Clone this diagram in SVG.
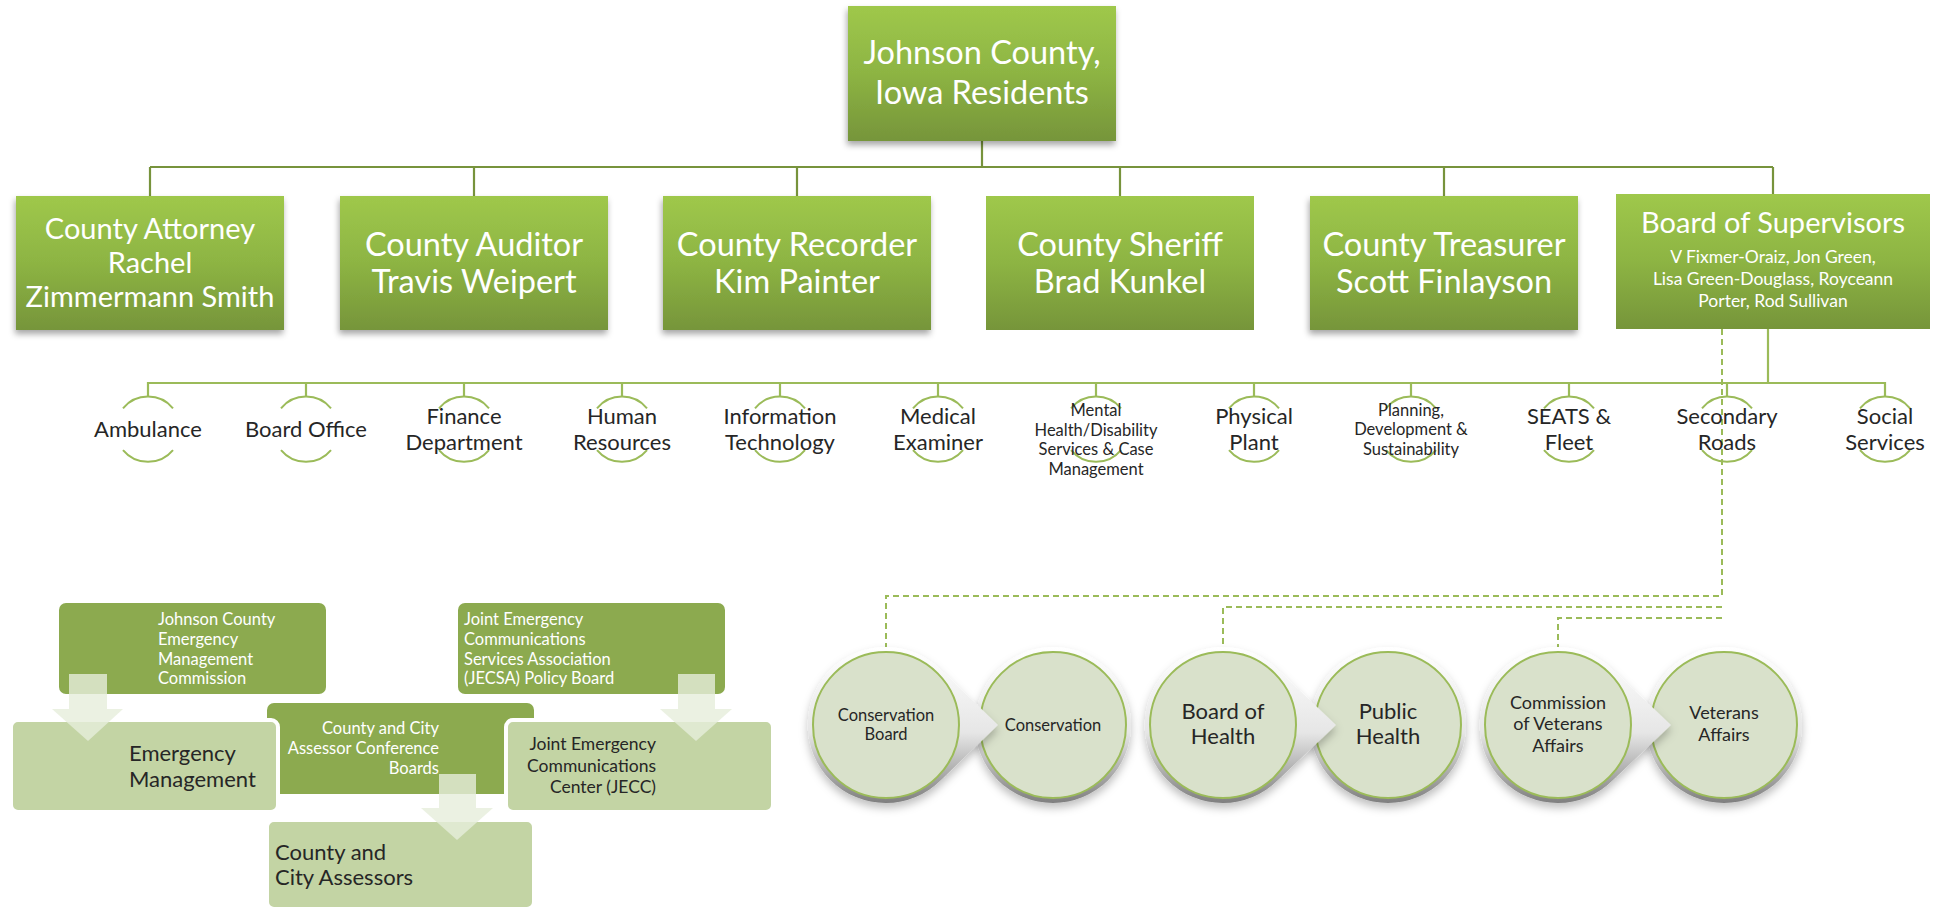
<svg xmlns="http://www.w3.org/2000/svg" width="1948" height="911" viewBox="0 0 1948 911">
  <style>
    .box { fill: url(#greenGrad); }
    .shadowed { filter: url(#boxShadow); }
    .wt { font-family: Lato, "Liberation Sans", sans-serif; fill: #ffffff; text-anchor: middle; }
    .dk { font-family: Lato, "Liberation Sans", sans-serif; fill: #262626; text-anchor: middle; }
    .solid { fill: none; stroke: #77933c; stroke-width: 2.2; }
    .light { fill: none; stroke: #9bbb59; stroke-width: 2.2; }
    .dash { fill: none; stroke: #9bbb59; stroke-width: 2; stroke-dasharray: 6 4; }
    .arc { fill: none; stroke: #9bbb59; stroke-width: 2; }
    .dbox { fill: #8caa4f; }
    .lbox { fill: #c3d4a4; stroke: #ffffff; stroke-width: 4; }
    .arrow { fill: #e6eddb; fill-opacity: 0.8; }
    .ring { fill: url(#ringGrad); filter: url(#ringShadow); }
    .inner { fill: #d9e1cb; stroke: #9bbb59; stroke-width: 2; }
  </style>
  <defs>
    <linearGradient id="greenGrad" x1="0" y1="0" x2="0" y2="1">
      <stop offset="0" stop-color="#9fc84b"/>
      <stop offset="0.5" stop-color="#8db443"/>
      <stop offset="1" stop-color="#76953a"/>
    </linearGradient>
    <linearGradient id="ringGrad" x1="0" y1="0" x2="0" y2="1">
      <stop offset="0" stop-color="#ffffff"/>
      <stop offset="0.55" stop-color="#e6e6e6"/>
      <stop offset="1" stop-color="#7f7f7f"/>
    </linearGradient>
    <filter id="boxShadow" x="-10%" y="-10%" width="120%" height="130%">
      <feDropShadow dx="-1" dy="4" stdDeviation="3" flood-color="#000000" flood-opacity="0.35"/>
    </filter>
    <filter id="ringShadow" x="-20%" y="-20%" width="140%" height="150%">
      <feDropShadow dx="0" dy="5" stdDeviation="4" flood-color="#000000" flood-opacity="0.25"/>
    </filter>
  </defs>

  <rect width="1948" height="911" fill="#ffffff"/>

  <!-- connectors -->
  <g id="connectors">
    <path class="solid" d="M982 141 V167 M150 167 H1773 M150 167 V196 M474 167 V196 M797 167 V196 M1120 167 V196 M1444 167 V196 M1773 167 V194"/>
    <path class="light" d="M1768 329 V383 M148 397 V383 H1885 V397 M306 383 V397 M464 383 V397 M622 383 V397 M780 383 V397 M938 383 V397 M1096 383 V397 M1254 383 V397 M1411 383 V397 M1569 383 V397 M1727 383 V397"/>
    <path class="dash" d="M1722 329 V596 H886 V647 M1722 607 H1223 V647 M1722 618 H1558 V647"/>
  </g>

  <!-- top level -->
  <g id="residents">
    <rect class="box shadowed" x="848" y="6" width="268" height="135"/>
    <text class="wt" font-size="32.5"><tspan x="982" y="64">Johnson County,</tspan><tspan x="982" y="104">Iowa Residents</tspan></text>
  </g>

  <!-- elected offices -->
  <g id="attorney">
    <rect class="box shadowed" x="16" y="196" width="268" height="134"/>
    <text class="wt" font-size="29"><tspan x="150" y="239">County Attorney</tspan><tspan x="150" y="273">Rachel</tspan><tspan x="150" y="307">Zimmermann Smith</tspan></text>
  </g>
  <g id="auditor">
    <rect class="box shadowed" x="340" y="196" width="268" height="134"/>
    <text class="wt" font-size="32.5"><tspan x="474" y="256">County Auditor</tspan><tspan x="474" y="293">Travis Weipert</tspan></text>
  </g>
  <g id="recorder">
    <rect class="box shadowed" x="663" y="196" width="268" height="134"/>
    <text class="wt" font-size="32.5"><tspan x="797" y="256">County Recorder</tspan><tspan x="797" y="293">Kim Painter</tspan></text>
  </g>
  <g id="sheriff">
    <rect class="box" x="986" y="196" width="268" height="134"/>
    <text class="wt" font-size="32.5"><tspan x="1120" y="256">County Sheriff</tspan><tspan x="1120" y="293">Brad Kunkel</tspan></text>
  </g>
  <g id="treasurer">
    <rect class="box shadowed" x="1310" y="196" width="268" height="134"/>
    <text class="wt" font-size="32.5"><tspan x="1444" y="256">County Treasurer</tspan><tspan x="1444" y="293">Scott Finlayson</tspan></text>
  </g>
  <g id="supervisors">
    <rect class="box" x="1616" y="194" width="314" height="135"/>
    <text class="wt" font-size="29"><tspan x="1773" y="233">Board of Supervisors</tspan></text>
    <text class="wt" font-size="17.5"><tspan x="1773" y="263">V Fixmer-Oraiz, Jon Green,</tspan><tspan x="1773" y="285">Lisa Green-Douglass, Royceann</tspan><tspan x="1773" y="307">Porter, Rod Sullivan</tspan></text>
  </g>

  <!-- departments -->
  <g id="ambulance">
    <path class="arc" d="M123 408.3 A32.5 32.5 0 0 1 173 408.3 M123 450.1 A32.5 32.5 0 0 0 173 450.1"/>
    <text class="dk" font-size="22"><tspan x="148" y="437">Ambulance</tspan></text>
  </g>
  <g id="board-office">
    <path class="arc" d="M281 408.3 A32.5 32.5 0 0 1 331 408.3 M281 450.1 A32.5 32.5 0 0 0 331 450.1"/>
    <text class="dk" font-size="22"><tspan x="306" y="437">Board Office</tspan></text>
  </g>
  <g id="finance">
    <path class="arc" d="M439 408.3 A32.5 32.5 0 0 1 489 408.3 M439 450.1 A32.5 32.5 0 0 0 489 450.1"/>
    <text class="dk" font-size="22"><tspan x="464" y="424">Finance</tspan><tspan x="464" y="450">Department</tspan></text>
  </g>
  <g id="human-resources">
    <path class="arc" d="M597 408.3 A32.5 32.5 0 0 1 647 408.3 M597 450.1 A32.5 32.5 0 0 0 647 450.1"/>
    <text class="dk" font-size="22"><tspan x="622" y="424">Human</tspan><tspan x="622" y="450">Resources</tspan></text>
  </g>
  <g id="it">
    <path class="arc" d="M755 408.3 A32.5 32.5 0 0 1 805 408.3 M755 450.1 A32.5 32.5 0 0 0 805 450.1"/>
    <text class="dk" font-size="22"><tspan x="780" y="424">Information</tspan><tspan x="780" y="450">Technology</tspan></text>
  </g>
  <g id="medical-examiner">
    <path class="arc" d="M913 408.3 A32.5 32.5 0 0 1 963 408.3 M913 450.1 A32.5 32.5 0 0 0 963 450.1"/>
    <text class="dk" font-size="22"><tspan x="938" y="424">Medical</tspan><tspan x="938" y="450">Examiner</tspan></text>
  </g>
  <g id="mental-health">
    <path class="arc" d="M1071 408.3 A32.5 32.5 0 0 1 1121 408.3 M1071 450.1 A32.5 32.5 0 0 0 1121 450.1"/>
    <text class="dk" font-size="16.5"><tspan x="1096" y="416">Mental</tspan><tspan x="1096" y="436">Health/Disability</tspan><tspan x="1096" y="455">Services &amp; Case</tspan><tspan x="1096" y="475">Management</tspan></text>
  </g>
  <g id="physical-plant">
    <path class="arc" d="M1229 408.3 A32.5 32.5 0 0 1 1279 408.3 M1229 450.1 A32.5 32.5 0 0 0 1279 450.1"/>
    <text class="dk" font-size="22"><tspan x="1254" y="424">Physical</tspan><tspan x="1254" y="450">Plant</tspan></text>
  </g>
  <g id="planning">
    <path class="arc" d="M1386 408.3 A32.5 32.5 0 0 1 1436 408.3 M1386 450.1 A32.5 32.5 0 0 0 1436 450.1"/>
    <text class="dk" font-size="16.5"><tspan x="1411" y="416">Planning,</tspan><tspan x="1411" y="435">Development &amp;</tspan><tspan x="1411" y="455">Sustainability</tspan></text>
  </g>
  <g id="seats">
    <path class="arc" d="M1544 408.3 A32.5 32.5 0 0 1 1594 408.3 M1544 450.1 A32.5 32.5 0 0 0 1594 450.1"/>
    <text class="dk" font-size="22"><tspan x="1569" y="424">SEATS &amp;</tspan><tspan x="1569" y="450">Fleet</tspan></text>
  </g>
  <g id="secondary-roads">
    <path class="arc" d="M1702 408.3 A32.5 32.5 0 0 1 1752 408.3 M1702 450.1 A32.5 32.5 0 0 0 1752 450.1"/>
    <text class="dk" font-size="22"><tspan x="1727" y="424">Secondary</tspan><tspan x="1727" y="450">Roads</tspan></text>
  </g>
  <g id="social-services">
    <path class="arc" d="M1860 408.3 A32.5 32.5 0 0 1 1910 408.3 M1860 450.1 A32.5 32.5 0 0 0 1910 450.1"/>
    <text class="dk" font-size="22"><tspan x="1885" y="424">Social</tspan><tspan x="1885" y="450">Services</tspan></text>
  </g>

  <!-- boards and commissions (left) -->
  <g id="emergency-commission">
    <rect class="dbox" x="59" y="603" width="267" height="91" rx="7"/>
    <text class="wt" font-size="16.5" text-anchor="start" style="text-anchor:start"><tspan x="158" y="625">Johnson County</tspan><tspan x="158" y="645">Emergency</tspan><tspan x="158" y="665">Management</tspan><tspan x="158" y="684">Commission</tspan></text>
  </g>
  <g id="jecsa-board">
    <rect class="dbox" x="458" y="603" width="267" height="91" rx="7"/>
    <text class="wt" font-size="16.5" style="text-anchor:start"><tspan x="464" y="625">Joint Emergency</tspan><tspan x="464" y="645">Communications</tspan><tspan x="464" y="665">Services Association</tspan><tspan x="464" y="684">(JECSA) Policy Board</tspan></text>
  </g>
  <g id="assessor-boards">
    <rect class="dbox" x="267" y="703" width="267" height="91" rx="7"/>
    <text class="wt" font-size="16.5" style="text-anchor:end"><tspan x="439" y="734">County and City</tspan><tspan x="439" y="754">Assessor Conference</tspan><tspan x="439" y="774">Boards</tspan></text>
  </g>
  <g id="emergency-management">
    <rect class="lbox" x="11" y="720" width="267" height="92" rx="7"/>
    <text class="dk" font-size="22" style="text-anchor:start"><tspan x="129" y="761">Emergency</tspan><tspan x="129" y="787">Management</tspan></text>
  </g>
  <g id="jecc">
    <rect class="lbox" x="506" y="720" width="267" height="92" rx="7"/>
    <text class="dk" font-size="17.5" style="text-anchor:end"><tspan x="656" y="750">Joint Emergency</tspan><tspan x="656" y="772">Communications</tspan><tspan x="656" y="793">Center (JECC)</tspan></text>
  </g>
  <g id="assessors">
    <rect class="lbox" x="267" y="820" width="267" height="89" rx="7"/>
    <text class="dk" font-size="22" style="text-anchor:start"><tspan x="275" y="860">County and</tspan><tspan x="275" y="885">City Assessors</tspan></text>
  </g>
  <g id="process-arrows">
    <path class="arrow" d="M69 674 H107 V709 H123 L88 741 L52 709 H69 Z"/>
    <path class="arrow" d="M439 774 H476 V808 H493 L457 840 L421 808 H439 Z"/>
    <path class="arrow" d="M678 674 H715 V709 H732 L696 741 L660 709 H678 Z"/>
  </g>

  <!-- boards and commissions (right) -->
  <g id="conservation">
    <circle class="ring" cx="1053" cy="725" r="78"/>
    <circle class="inner" cx="1053" cy="725" r="73"/>
    <text class="dk" font-size="16.5"><tspan x="1053" y="731">Conservation</tspan></text>
  </g>
  <g id="conservation-board">
    <path class="ring" d="M941 670 L998 725 L941 780 A78 78 0 1 1 941 670 Z"/>
    <circle class="inner" cx="886" cy="725" r="73"/>
    <text class="dk" font-size="16.5"><tspan x="886" y="721">Conservation</tspan><tspan x="886" y="740">Board</tspan></text>
  </g>
  <g id="public-health">
    <circle class="ring" cx="1388" cy="725" r="78"/>
    <circle class="inner" cx="1388" cy="725" r="73"/>
    <text class="dk" font-size="22"><tspan x="1388" y="719">Public</tspan><tspan x="1388" y="744">Health</tspan></text>
  </g>
  <g id="board-of-health">
    <path class="ring" d="M1278 670 L1336 725 L1278 780 A78 78 0 1 1 1278 670 Z"/>
    <circle class="inner" cx="1223" cy="725" r="73"/>
    <text class="dk" font-size="22"><tspan x="1223" y="719">Board of</tspan><tspan x="1223" y="744">Health</tspan></text>
  </g>
  <g id="veterans-affairs">
    <circle class="ring" cx="1724" cy="725" r="78"/>
    <circle class="inner" cx="1724" cy="725" r="73"/>
    <text class="dk" font-size="18"><tspan x="1724" y="719">Veterans</tspan><tspan x="1724" y="741">Affairs</tspan></text>
  </g>
  <g id="veterans-commission">
    <path class="ring" d="M1613 670 L1671 725 L1613 780 A78 78 0 1 1 1613 670 Z"/>
    <circle class="inner" cx="1558" cy="725" r="73"/>
    <text class="dk" font-size="18"><tspan x="1558" y="709">Commission</tspan><tspan x="1558" y="730">of Veterans</tspan><tspan x="1558" y="752">Affairs</tspan></text>
  </g>
</svg>
